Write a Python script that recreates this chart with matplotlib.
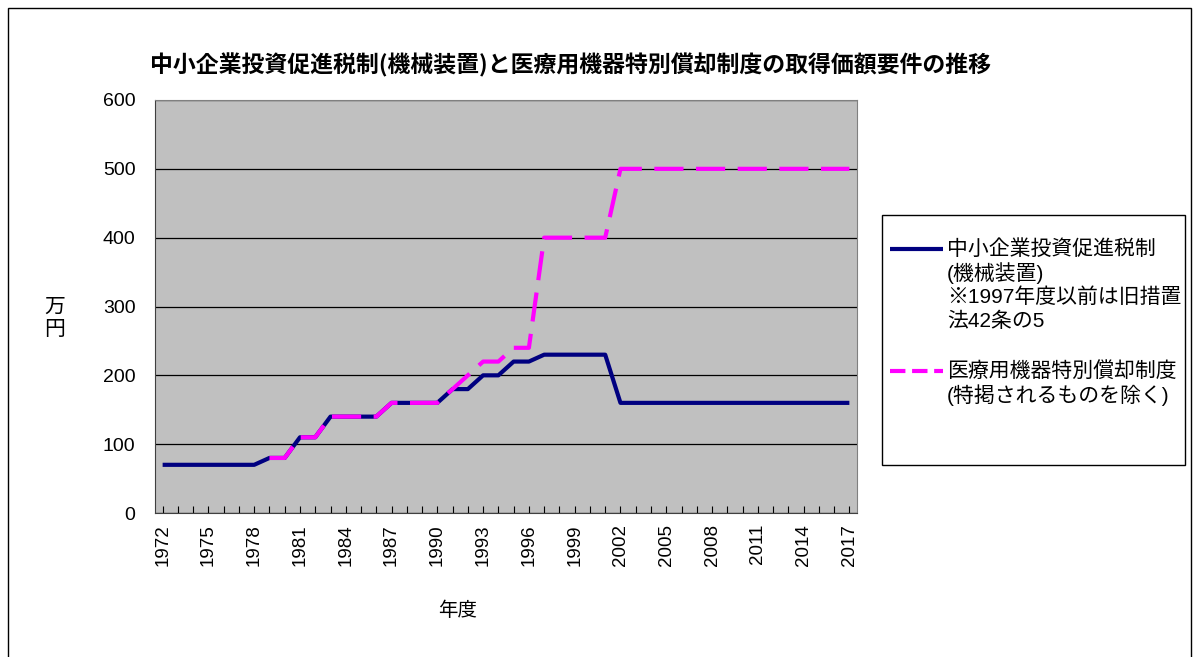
import numpy as np
import matplotlib.pyplot as plt
from matplotlib.patches import Rectangle
from matplotlib.lines import Line2D

plt.rcParams['font.family'] = ['Liberation Sans', 'Noto Sans CJK JP']

years = list(range(1972, 2018))

# 中小企業投資促進税制（機械装置）
machine = [70, 70, 70, 70, 70, 70, 70,
           80, 80, 110, 110, 140, 140, 140, 140,
           160, 160, 160, 160, 180, 180, 200, 200, 220, 220,
           230, 230, 230, 230, 230,
           160, 160, 160, 160, 160, 160, 160, 160,
           160, 160, 160, 160, 160, 160, 160, 160]

# 医療用機器特別償却制度（特掲されるものを除く）
medical = [np.nan, np.nan, np.nan, np.nan, np.nan, np.nan, np.nan,
           80, 80, 110, 110, 140, 140, 140, 140,
           160, 160, 160, 160, 180, 200, 220, 220, 240, 240,
           400, 400, 400, 400, 400,
           500, 500, 500, 500, 500, 500, 500, 500,
           500, 500, 500, 500, 500, 500, 500, 500]

label_machine = ['中小企業投資促進税制', '(機械装置)',
                 '※1997年度以前は旧措置', '法42条の5']
label_medical = ['医療用機器特別償却制度', '(特掲されるものを除く)']

W, H = 1197, 657
fig = plt.figure(figsize=(W / 100, H / 100), dpi=100)
fig.patch.set_facecolor('white')

# outer chart frame
fig.patches.append(Rectangle((8 / W, -0.05), 1183 / W, 1.05 - 8 / H,
                             transform=fig.transFigure, fill=False,
                             edgecolor='black', linewidth=1.0))

ax = fig.add_axes([155 / W, 1 - 513 / H, 702 / W, 413 / H])
ax.set_facecolor('#C0C0C0')

x = np.arange(len(years))
line_machine, = ax.plot(x, machine, color='#000080', linewidth=3,
                        solid_capstyle='butt', zorder=3)
line_medical, = ax.plot(x, medical, color='#FF00FF', linewidth=3,
                        linestyle=(0, (7, 3)), dash_capstyle='butt', zorder=4)

ax.set_xlim(-0.5, len(years) - 0.5)
ax.set_ylim(0, 600)
ax.set_yticks(range(0, 601, 100))
ax.yaxis.grid(True, color='black', linewidth=0.9)
ax.set_axisbelow(True)

ax.set_xticks(x)
ax.set_xticklabels([str(y) if (y - 1972) % 3 == 0 else '' for y in years],
                   rotation=90, fontsize=13.5)
ax.tick_params(axis='x', direction='in', length=5, width=0.8, pad=8)
ax.tick_params(axis='y', direction='out', length=0, labelsize=14, pad=14)

for side in ['top', 'right']:
    ax.spines[side].set_color('#808080')
for side in ['left', 'bottom']:
    ax.spines[side].set_color('#404040')

fig.text(571 / W, 1 - 65 / H,
         '中小企業投資促進税制(機械装置)と医療用機器特別償却制度の取得価額要件の推移',
         ha='center', va='center', fontsize=16.5, fontweight='bold',
         family=['Noto Sans CJK JP'])
fig.text(458 / W, 1 - 610 / H, '年度', ha='center', va='center', fontsize=14,
         family=['Noto Sans CJK JP'])
fig.text(55 / W, 1 - 318 / H, '万\n円', ha='center', va='center', fontsize=15,
         linespacing=1.0, family=['Noto Sans CJK JP'])

# legend box with a line sample and wrapped label per series
fig.patches.append(Rectangle((882 / W, 1 - 465 / H), 303 / W, 250 / H,
                             transform=fig.transFigure, fill=False,
                             edgecolor='black', linewidth=1.0))
for src, lines, top in [(line_machine, label_machine, 249),
                        (line_medical, label_medical, 371)]:
    sample = Line2D([890 / W, 943 / W], [1 - top / H, 1 - top / H],
                    transform=fig.transFigure, color=src.get_color(),
                    linewidth=src.get_linewidth(), linestyle=src.get_linestyle(),
                    dash_capstyle='butt', solid_capstyle='butt')
    fig.lines.append(sample)
    for i, txt in enumerate(lines):
        fig.text(947 / W, 1 - (top + 24 * i) / H, txt, ha='left', va='center',
                 fontsize=15)

plt.savefig('out.png', dpi=100)
